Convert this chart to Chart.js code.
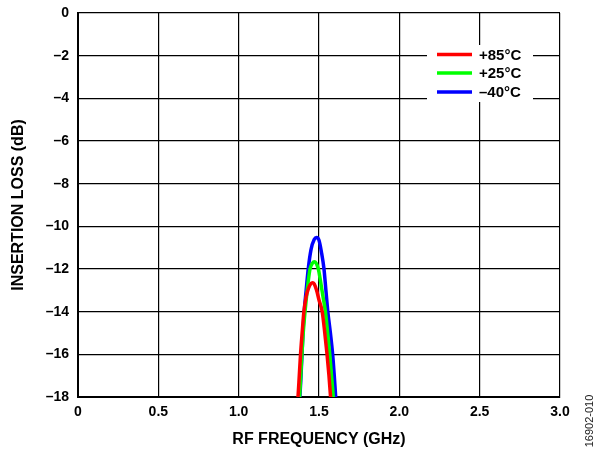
<!DOCTYPE html>
<html>
<head>
<meta charset="utf-8">
<script src="https://cdn.jsdelivr.net/npm/chart.js@4/dist/chart.umd.min.js"></script>
<style>
  html, body { margin: 0; padding: 0; background: #fff; }
  #wrap { width: 599px; height: 449px; position: relative; }
</style>
</head>
<body>
<div id="wrap"><canvas id="c" width="599" height="449"></canvas></div>
<script>
// ---- data (GHz, dB) ----
const seriesLabels = ['+85°C', '+25°C', '\u201340°C'];
const seriesColors = ['#ff0000', '#00ff00', '#0000ff'];

const red85X = [1.366, 1.375, 1.385, 1.395, 1.406, 1.420, 1.435, 1.450, 1.460, 1.470, 1.485, 1.500, 1.520, 1.536, 1.550, 1.562, 1.572, 1.576];
const red85Y = [-18.4, -17.3, -16.0, -15.0, -14.0, -13.3, -12.9, -12.68, -12.64, -12.7, -13.0, -13.45, -14.0, -15.0, -16.0, -17.0, -18.0, -18.5];

const green25X = [1.376, 1.383, 1.390, 1.400, 1.413, 1.428, 1.444, 1.460, 1.471, 1.482, 1.496, 1.510, 1.525, 1.540, 1.554, 1.567, 1.578, 1.589, 1.593];
const green25Y = [-18.4, -17.5, -16.5, -15.2, -14.0, -12.9, -12.0, -11.72, -11.66, -11.72, -12.0, -12.6, -13.3, -14.0, -15.0, -16.0, -17.0, -18.0, -18.5];

const blue40X = [1.378, 1.386, 1.393, 1.400, 1.408, 1.420, 1.433, 1.450, 1.470, 1.485, 1.500, 1.515, 1.531, 1.543, 1.555, 1.571, 1.585, 1.595, 1.604, 1.608];
const blue40Y = [-18.4, -17.3, -16.2, -15.0, -14.0, -13.0, -12.0, -11.1, -10.62, -10.52, -10.65, -11.2, -12.0, -13.0, -14.0, -15.0, -16.0, -17.0, -18.0, -18.5];

const xTickLabels = ['0', '0.5', '1.0', '1.5', '2.0', '2.5', '3.0'];
const yTickLabels = ['0', '\u20132', '\u20134', '\u20136', '\u20138', '\u201310', '\u201312', '\u201314', '\u201316', '\u201318'];
const xTitle = 'RF FREQUENCY (GHz)';
const yTitle = 'INSERTION LOSS (dB)';
const figureId = '16902-010';

function pts(xs, ys) { return xs.map((x, i) => ({ x: x, y: ys[i] })); }
const seriesData = [pts(red85X, red85Y), pts(green25X, green25Y), pts(blue40X, blue40Y)];

const FONT = '"Liberation Sans", Arial, sans-serif';

const legendPlugin = {
  id: 'boxLegend',
  afterDatasetsDraw(chart) {
    const ctx = chart.ctx;
    const x0 = 427, y0 = 45, w = 106, h = 57;
    ctx.save();
    ctx.fillStyle = '#fff';
    ctx.fillRect(x0, y0, w, h);
    const ys = [54.5, 73, 92];
    chart.data.datasets.forEach((ds, i) => {
      ctx.strokeStyle = ds.borderColor;
      ctx.lineWidth = 3.5;
      ctx.beginPath();
      ctx.moveTo(437, ys[i]);
      ctx.lineTo(472, ys[i]);
      ctx.stroke();
      ctx.fillStyle = '#000';
      ctx.font = 'bold 15px ' + FONT;
      ctx.textBaseline = 'middle';
      ctx.textAlign = 'left';
      ctx.fillText(ds.label, 479, ys[i] + 1);
    });
    ctx.restore();
  },
  afterDraw(chart) {
    const ctx = chart.ctx;
    ctx.save();
    ctx.translate(590, 421);
    ctx.rotate(-Math.PI / 2);
    ctx.fillStyle = '#222';
    ctx.font = '11px ' + FONT;
    ctx.textAlign = 'center';
    ctx.textBaseline = 'middle';
    ctx.fillText(figureId, 0, 0);
    ctx.restore();
  }
};

new Chart(document.getElementById('c'), {
  type: 'line',
  data: {
    datasets: seriesData.map((d, i) => ({
      label: seriesLabels[i],
      data: d,
      borderColor: seriesColors[i],
      backgroundColor: seriesColors[i],
      borderWidth: 3.5,
      pointRadius: 0,
      tension: 0.4,
      cubicInterpolationMode: 'monotone',
      fill: false
    }))
  },
  options: {
    responsive: false,
    animation: false,
    devicePixelRatio: 1,
    layout: { padding: { top: 13, right: 39, left: 0, bottom: 0 } },
    plugins: { legend: { display: false }, tooltip: { enabled: false } },
    scales: {
      x: {
        type: 'linear',
        min: 0, max: 3,
        ticks: {
          stepSize: 0.5,
          padding: 7,
          color: '#000',
          font: { family: FONT, size: 14, weight: 'bold' },
          callback: (v) => { const i = Math.round(v / 0.5); return xTickLabels[i]; }
        },
        grid: { color: '#000', lineWidth: 1.2, drawTicks: false },
        border: { color: '#000', width: 2 },
        title: { display: true, text: xTitle, color: '#000', font: { family: FONT, size: 16, weight: 'bold' }, padding: { top: 0, bottom: 0 } },
        afterFit: (s) => { s.height = 52; s.paddingLeft = 0; s.paddingRight = 0; }
      },
      y: {
        type: 'linear',
        min: -18, max: 0,
        ticks: {
          stepSize: 2,
          padding: 9,
          color: '#000',
          font: { family: FONT, size: 14, weight: 'bold' },
          callback: (v) => yTickLabels[Math.round(-v / 2)]
        },
        grid: { color: '#000', lineWidth: 1.2, drawTicks: false },
        border: { color: '#000', width: 2 },
        title: { display: true, text: yTitle, color: '#000', font: { family: FONT, size: 16, weight: 'bold' }, padding: { top: 9, bottom: 0 } },
        afterFit: (s) => { s.width = 78; s.paddingTop = 0; s.paddingBottom = 0; }
      }
    }
  },
  plugins: [legendPlugin]
});
</script>
</body>
</html>
